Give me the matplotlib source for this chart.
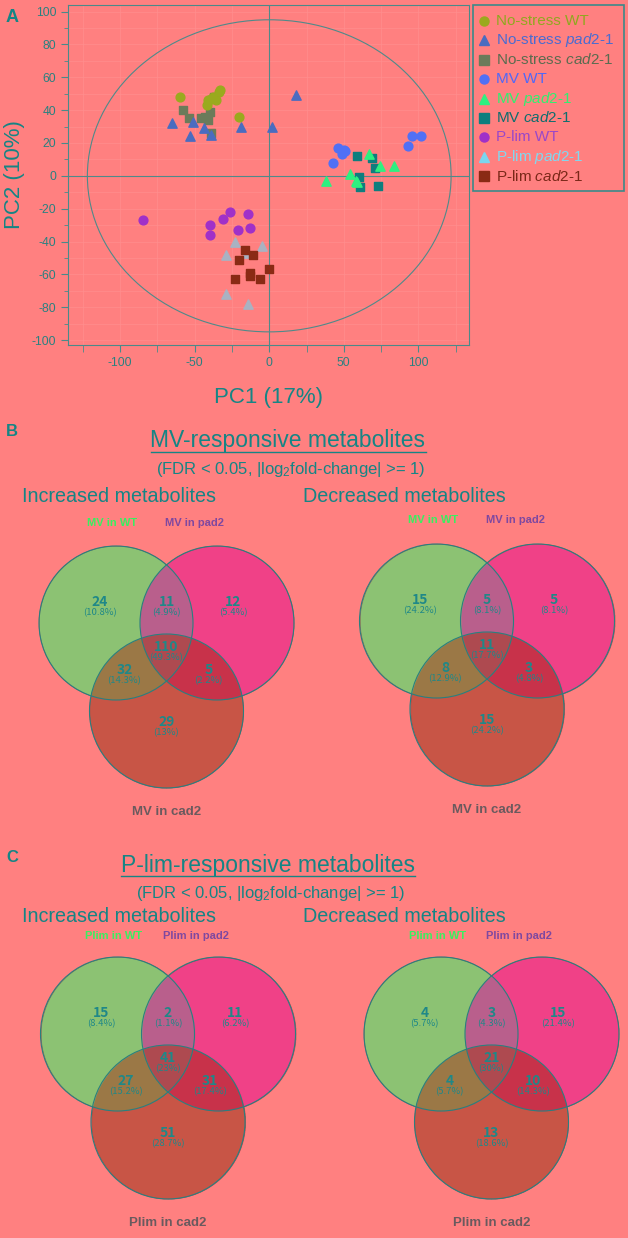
import numpy as np
import matplotlib
matplotlib.use("Agg")
import matplotlib.pyplot as plt
from matplotlib.patches import Ellipse, Circle, Rectangle
from matplotlib.ticker import MultipleLocator
from matplotlib.colors import to_rgba

plt.rcParams['font.family'] = ['Liberation Sans', 'DejaVu Sans']
plt.rcParams['mathtext.fontset'] = 'custom'
plt.rcParams['mathtext.rm'] = 'Liberation Sans'
plt.rcParams['mathtext.it'] = 'Liberation Sans:italic'
plt.rcParams['axes.unicode_minus'] = False

# ---- PCA scores (panel A) ----
ns_wt_x = [-60, -42, -41, -39, -38, -36, -34, -33, -20]
ns_wt_y = [48, 43, 46, 47, 48, 46, 51, 52, 36]
ns_pad2_x = [-65, -53, -51, -44, -39, -19, 2, 18]
ns_pad2_y = [32, 24, 33, 29, 25, 30, 30, 49]
ns_cad2_x = [-58, -54, -46, -43, -40, -37, -39, -41]
ns_cad2_y = [40, 35, 35, 36, 39, 48, 26, 34]
mv_wt_x = [43, 46, 49, 50, 51, 93, 96, 102]
mv_wt_y = [8, 17, 13, 16, 15, 18, 24, 24]
mv_pad2_x = [38, 54, 58, 59, 67, 74, 84]
mv_pad2_y = [-3, 1, -3, -4, 13, 6, 6]
mv_cad2_x = [59, 60, 61, 69, 71, 73]
mv_cad2_y = [12, -1, -7, 11, 5, -6]
pl_wt_x = [-85, -40, -40, -31, -26, -21, -14, -13]
pl_wt_y = [-27, -30, -36, -26, -22, -33, -23, -32]
pl_pad2_x = [-29, -23, -15, -5, -29, -14]
pl_pad2_y = [-48, -40, -47, -43, -72, -78]
pl_cad2_x = [-16, -11, -20, -13, -13, -23, -6, 0]
pl_cad2_y = [-45, -48, -51, -59, -61, -63, -63, -57]

group_labels = ['No-stress WT', 'No-stress $\\mathit{pad2}$-$\\mathit{1}$', 'No-stress $\\mathit{cad2}$-$\\mathit{1}$',
                'MV WT', 'MV $\\mathit{pad2}$-$\\mathit{1}$', 'MV $\\mathit{cad2}$-$\\mathit{1}$',
                'P-lim WT', 'P-lim $\\mathit{pad2}$-$\\mathit{1}$', 'P-lim $\\mathit{cad2}$-$\\mathit{1}$']

# ---- Venn counts: [A, AB, B, ABC, AC, BC, C] ----
mv_up = [24, 11, 12, 110, 32, 5, 29]
mv_up_pct = [10.8, 4.9, 5.4, 49.3, 14.3, 2.2, 13]
mv_down = [15, 5, 5, 11, 8, 3, 15]
mv_down_pct = [24.2, 8.1, 8.1, 17.7, 12.9, 4.8, 24.2]
pl_up = [15, 2, 11, 41, 27, 31, 51]
pl_up_pct = [8.4, 1.1, 6.2, 23, 15.2, 17.4, 28.7]
pl_down = [4, 3, 15, 21, 4, 10, 13]
pl_down_pct = [5.7, 4.3, 21.4, 30, 5.7, 14.3, 18.6]

bg = '#FF8080'
teal = '#158585'
W, H = 628, 1238

fig = plt.figure(figsize=(W / 100, H / 100), dpi=100, facecolor=bg)

# overlay axes in pixel coordinates for text, legend and venns
ov = fig.add_axes([0, 0, 1, 1])
ov.set_facecolor(bg)
ov.axis('off')

# ---------------- panel A ----------------
ax = fig.add_axes([68 / W, 1 - 345 / H, (469 - 68) / W, (345 - 5) / H])
ax.set_facecolor(bg)
ax.set_xlim(-135, 134)
ax.set_ylim(-103, 104)
ax.xaxis.set_major_locator(MultipleLocator(50))
ax.xaxis.set_minor_locator(MultipleLocator(25))
ax.yaxis.set_major_locator(MultipleLocator(20))
ax.yaxis.set_minor_locator(MultipleLocator(10))
ax.tick_params(which='both', direction='out', color='#4A8A8A', labelcolor='#2A8080', labelsize=8.7)
ax.tick_params(axis='x', which='both', length=5)
ax.tick_params(axis='y', which='major', length=5)
ax.tick_params(axis='y', which='minor', length=3)
for s in ax.spines.values():
    s.set_color('#4A8A8A')
    s.set_linewidth(0.8)
ax.grid(which='both', color='#FF8E8E', lw=0.5)
ax.set_axisbelow(True)
ax.axhline(0, color='#4F8A8A', lw=0.8, zorder=1)
ax.axvline(0, color='#4F8A8A', lw=0.8, zorder=1)
ax.add_patch(Ellipse((0, 0), 244, 190, fill=False, ec='#4F8A8A', lw=0.8, zorder=1))

ax.scatter(ns_cad2_x, ns_cad2_y, marker='s', s=28, color='#6B7B5A', zorder=3)
ax.scatter(ns_pad2_x, ns_pad2_y, marker='^', s=45, color='#4A6CC0', zorder=3)
ax.scatter(ns_wt_x, ns_wt_y, marker='o', s=40, color='#9AAA1E', zorder=3)
ax.scatter(mv_cad2_x, mv_cad2_y, marker='s', s=28, color='#0E7E7E', zorder=3)
ax.scatter(mv_pad2_x, mv_pad2_y, marker='^', s=45, color='#2EF080', zorder=3)
ax.scatter(mv_wt_x, mv_wt_y, marker='o', s=40, color='#5070F5', zorder=3)
ax.scatter(pl_wt_x, pl_wt_y, marker='o', s=40, color='#A030C8', zorder=3)
ax.scatter(pl_pad2_x, pl_pad2_y, marker='^', s=45, color='#A9B2C2', zorder=3)
ax.scatter(pl_cad2_x, pl_cad2_y, marker='s', s=28, color='#8A2A14', zorder=3)

ax.set_xlabel('PC1 (17%)', fontsize=16, color=teal, labelpad=13)
ax.set_ylabel('PC2 (10%)', fontsize=16, color=teal, labelpad=5)

ov.text(6, 18, 'A', fontsize=13, fontweight='bold', color=teal, va='center')

# legend (manual, to match spacing)
leg_markers = ['o', '^', 's', 'o', '^', 's', 'o', '^', 's']
leg_mcolors = ['#9AAA1E', '#4A6CC0', '#6B7B5A', '#5070F5', '#2EF080', '#0E7E7E', '#A030C8', '#7AD6EE', '#8A2A14']
leg_tcolors = ['#90A81E', '#4A6CD0', '#5B6B50', '#5068F8', '#30F070', '#0E6E6E', '#9A48C8', '#80D8F0', '#7A2818']
ov.add_patch(Rectangle((473, 5), 151, 186, fill=False, ec='#3A8A8A', lw=1.2))
for i, lab in enumerate(group_labels):
    yy = 21 + 19.4 * i
    ov.plot([484], [yy], marker=leg_markers[i], ms=6.5, color=leg_mcolors[i], ls='none')
    ov.text(496, yy, lab, fontsize=11, color=leg_tcolors[i], va='center')

# ---------------- venn helper ----------------
region_colors = {1: '#8CC373', 2: '#F04187', 4: '#C85546', 3: '#B95F8C',
                 5: '#9B7846', 6: '#C8324B', 7: '#AF4B50'}


def venn(cx, cy, counts, pcts, top_names, bottom_name, name_y):
    r, d, h = 77, 50.5, 88
    centers = [(cx - d, cy), (cx + d, cy), (cx, cy + h)]
    xs = np.arange(cx - d - r - 3, cx + d + r + 3, 0.25)
    ys = np.arange(cy - r - 3, cy + h + r + 3, 0.25)
    X, Y = np.meshgrid(xs, ys)
    code = np.zeros(X.shape, int)
    for k, (x0, y0) in enumerate(centers):
        code += ((X - x0) ** 2 + (Y - y0) ** 2 <= r * r).astype(int) * (1 << k)
    rgba = np.zeros(X.shape + (4,))
    for c, col in region_colors.items():
        rgba[code == c] = to_rgba(col)
    ov.imshow(rgba, extent=(xs[0], xs[-1], ys[-1], ys[0]), interpolation='bilinear', aspect='auto', zorder=1)
    for (x0, y0) in centers:
        ov.add_patch(Circle((x0, y0), r, fill=False, ec='#2A7F7F', lw=0.8, zorder=2))
    offs = [(-67, -21), (0, -21), (67, -21), (0, 24), (-42, 47), (42, 47), (0, 99)]
    for (ox, oy), n, p in zip(offs, counts, pcts):
        ov.text(cx + ox, cy + oy, str(n), fontsize=10, fontweight='bold', color='#1F8888',
                ha='center', va='center', family=['Noto Sans CJK JP', 'DejaVu Sans'], zorder=3)
        ov.text(cx + ox, cy + oy + 11, f'({p:g}%)', fontsize=6.8, color='#1F8888',
                ha='center', va='center', family=['Noto Sans CJK JP', 'DejaVu Sans'], zorder=3)
    ov.text(cx - 54, name_y, top_names[0], fontsize=8, fontweight='bold', color='#38F060', ha='center', va='center')
    ov.text(cx + 28, name_y, top_names[1], fontsize=8, fontweight='bold', color='#7F48A0', ha='center', va='center')
    ov.text(cx, cy + 189, bottom_name, fontsize=9.5, fontweight='bold', color='#6A5A5E', ha='center', va='center')


def header(letter, ly, title, tx, tbase, sbase, hbase):
    ov.text(6, ly, letter, fontsize=12, fontweight='bold', color=teal, va='center')
    t = ov.text(tx, tbase, title, fontsize=16.5, color=teal, ha='center', va='baseline')
    ov.text(tx + 3, sbase, '(FDR < 0.05, |log$_2$fold-change| >= 1)', fontsize=12, color=teal,
            ha='center', va='baseline')
    ov.text(22, hbase, 'Increased metabolites', fontsize=14.2, color=teal, va='baseline')
    ov.text(303, hbase, 'Decreased metabolites', fontsize=14.2, color=teal, va='baseline')
    return t


# ---------------- panel B ----------------
tb = header('B', 431, 'MV-responsive metabolites', 288, 447, 474, 502)
venn(166.5, 623, mv_up, mv_up_pct, ['MV in WT', 'MV in pad2'], 'MV in cad2', 523)
venn(487, 621, mv_down, mv_down_pct, ['MV in WT', 'MV in pad2'], 'MV in cad2', 520)

# ---------------- panel C ----------------
tc = header('C', 858, 'P-lim-responsive metabolites', 268, 872, 898, 922)
venn(168, 1034, pl_up, pl_up_pct, ['Plim in WT', 'Plim in pad2'], 'Plim in cad2', 936)
venn(491.5, 1034, pl_down, pl_down_pct, ['Plim in WT', 'Plim in pad2'], 'Plim in cad2', 936)

ov.set_xlim(0, W)
ov.set_ylim(H, 0)

# underline the two titles
fig.canvas.draw()
inv = ov.transData.inverted()
for t, uy in [(tb, 452), (tc, 876)]:
    bb = t.get_window_extent()
    x0 = inv.transform((bb.x0, 0))[0]
    x1 = inv.transform((bb.x1, 0))[0]
    ov.plot([x0, x1], [uy, uy], color=teal, lw=1)

ov.set_xlim(0, W)
ov.set_ylim(H, 0)
fig.savefig('out.png', dpi=100, facecolor=bg)
